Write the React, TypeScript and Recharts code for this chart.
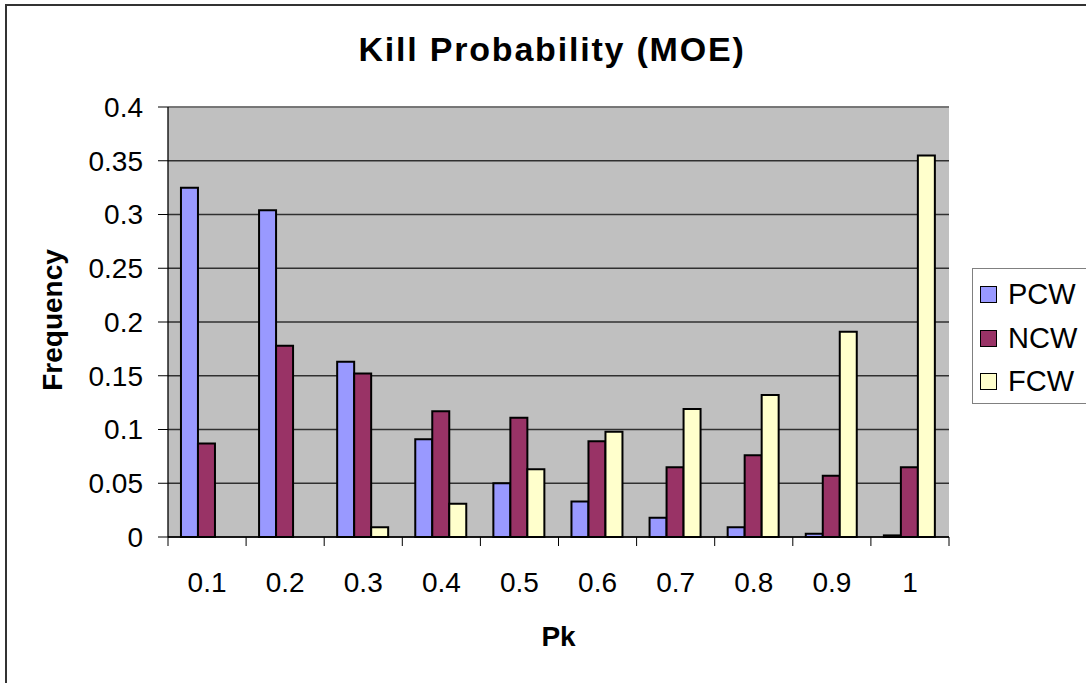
import { Bar, BarChart, CartesianGrid, Label, ReferenceLine, XAxis, YAxis } from 'recharts'

const FONT = '"Liberation Sans", Arial, sans-serif'

// Pk buckets and the frequency of each weapon type per bucket
const pk = ['0.1', '0.2', '0.3', '0.4', '0.5', '0.6', '0.7', '0.8', '0.9', '1']
const pcw = [0.325, 0.304, 0.163, 0.091, 0.05, 0.033, 0.018, 0.009, 0.003, 0.0015]
const ncw = [0.087, 0.178, 0.152, 0.117, 0.111, 0.089, 0.065, 0.076, 0.057, 0.065]
const fcw = [0, 0, 0.009, 0.031, 0.063, 0.098, 0.119, 0.132, 0.191, 0.355]
const yTicks = [0, 0.05, 0.1, 0.15, 0.2, 0.25, 0.3, 0.35, 0.4]

const series = [
  { key: 'PCW', color: '#9999FF' },
  { key: 'NCW', color: '#993366' },
  { key: 'FCW', color: '#FFFFCC' },
]

const data = pk.map((p, i) => ({ pk: p, PCW: pcw[i], NCW: ncw[i], FCW: fcw[i] }))

const TICK = 9

// category labels with tick marks sitting on the bucket boundaries
function PkTick(props: any) {
  const { x, y, payload, index } = props
  const half = payload?.offset ?? 39
  const axisY = y - TICK
  return (
    <g>
      <line x1={x - half} y1={axisY} x2={x - half} y2={y} stroke="#000" strokeWidth={1} />
      {index === pk.length - 1 && <line x1={x + half} y1={axisY} x2={x + half} y2={y} stroke="#000" strokeWidth={1} />}
      <text x={x} y={axisY + 55} textAnchor="middle" fontSize={28} fontFamily={FONT} fill="#000">
        {payload.value}
      </text>
    </g>
  )
}

function KeyBox() {
  return (
    <div
      style={{
        position: 'absolute',
        left: 972,
        top: 268,
        width: 124,
        height: 136,
        border: '1px solid #808080',
        background: '#fff',
        paddingTop: 4,
        boxSizing: 'border-box',
      }}
    >
      {series.map((s) => (
        <div key={s.key} style={{ display: 'flex', alignItems: 'center', height: 43.5 }}>
          <span
            style={{ width: 17, height: 17, marginLeft: 7, border: '1.5px solid #000', background: s.color, boxSizing: 'border-box' }}
          />
          <span style={{ marginLeft: 11, fontSize: 29, fontFamily: FONT, color: '#000', lineHeight: 1 }}>{s.key}</span>
        </div>
      ))}
    </div>
  )
}

export default function App() {
  return (
    <div style={{ position: 'absolute', left: 0, top: 0, width: 1086, height: 683, overflow: 'hidden', background: '#fff' }}>
      <div style={{ position: 'absolute', left: 5, top: 4, width: 1120, height: 720, border: '2px solid #333' }} />
      <div
        style={{
          position: 'absolute',
          left: 0,
          top: 32,
          width: 1104,
          textAlign: 'center',
          fontFamily: FONT,
          fontWeight: 'bold',
          fontSize: 34,
          lineHeight: '34px',
          letterSpacing: 1.8,
          color: '#000',
        }}
      >
        Kill Probability (MOE)
      </div>
      <div style={{ position: 'absolute', left: 0, top: 0 }}>
        <BarChart
          width={1086}
          height={683}
          data={data}
          margin={{ top: 107, right: 137, bottom: 36, left: 0 }}
          barCategoryGap="16.6%"
          barGap={0}
        >
          <CartesianGrid vertical={false} fill="#C0C0C0" stroke="#303030" strokeWidth={1.3} fillOpacity={1} />
          <XAxis
            dataKey="pk"
            height={110}
            interval={0}
            tickSize={TICK}
            tickMargin={0}
            tickLine={false}
            axisLine={{ stroke: '#000', strokeWidth: 1.3 }}
            tick={<PkTick />}
          >
            <Label
              content={({ viewBox }: any) => (
                <text
                  x={viewBox.x + viewBox.width / 2}
                  y={viewBox.y + 109}
                  textAnchor="middle"
                  fontSize={28}
                  fontWeight="bold"
                  fontFamily={FONT}
                  fill="#000"
                >
                  Pk
                </text>
              )}
            />
          </XAxis>
          <YAxis
            width={168}
            domain={[0, 0.4]}
            ticks={yTicks}
            interval={0}
            tickSize={10}
            tickMargin={15}
            axisLine={{ stroke: '#000', strokeWidth: 1.3 }}
            tickLine={{ stroke: '#000' }}
            tick={{ fontSize: 28, fontFamily: FONT, fill: '#000' }}
          >
            <Label
              content={({ viewBox }: any) => (
                <text
                  x={62}
                  y={viewBox.y + viewBox.height / 2 - 2}
                  transform={`rotate(-90, 62, ${viewBox.y + viewBox.height / 2 - 2})`}
                  textAnchor="middle"
                  fontSize={28}
                  fontWeight="bold"
                  fontFamily={FONT}
                  fill="#000"
                >
                  Frequency
                </text>
              )}
            />
          </YAxis>
          <YAxis yAxisId="edge" orientation="right" width={0} tick={false} tickLine={false} axisLine={{ stroke: '#808080' }} />
          <ReferenceLine y={0.4} stroke="#808080" strokeWidth={1.3} />
          {series.map((s) => (
            <Bar key={s.key} dataKey={s.key} fill={s.color} stroke="#000" strokeWidth={2} isAnimationActive={false} />
          ))}
        </BarChart>
      </div>
      <KeyBox />
    </div>
  )
}
